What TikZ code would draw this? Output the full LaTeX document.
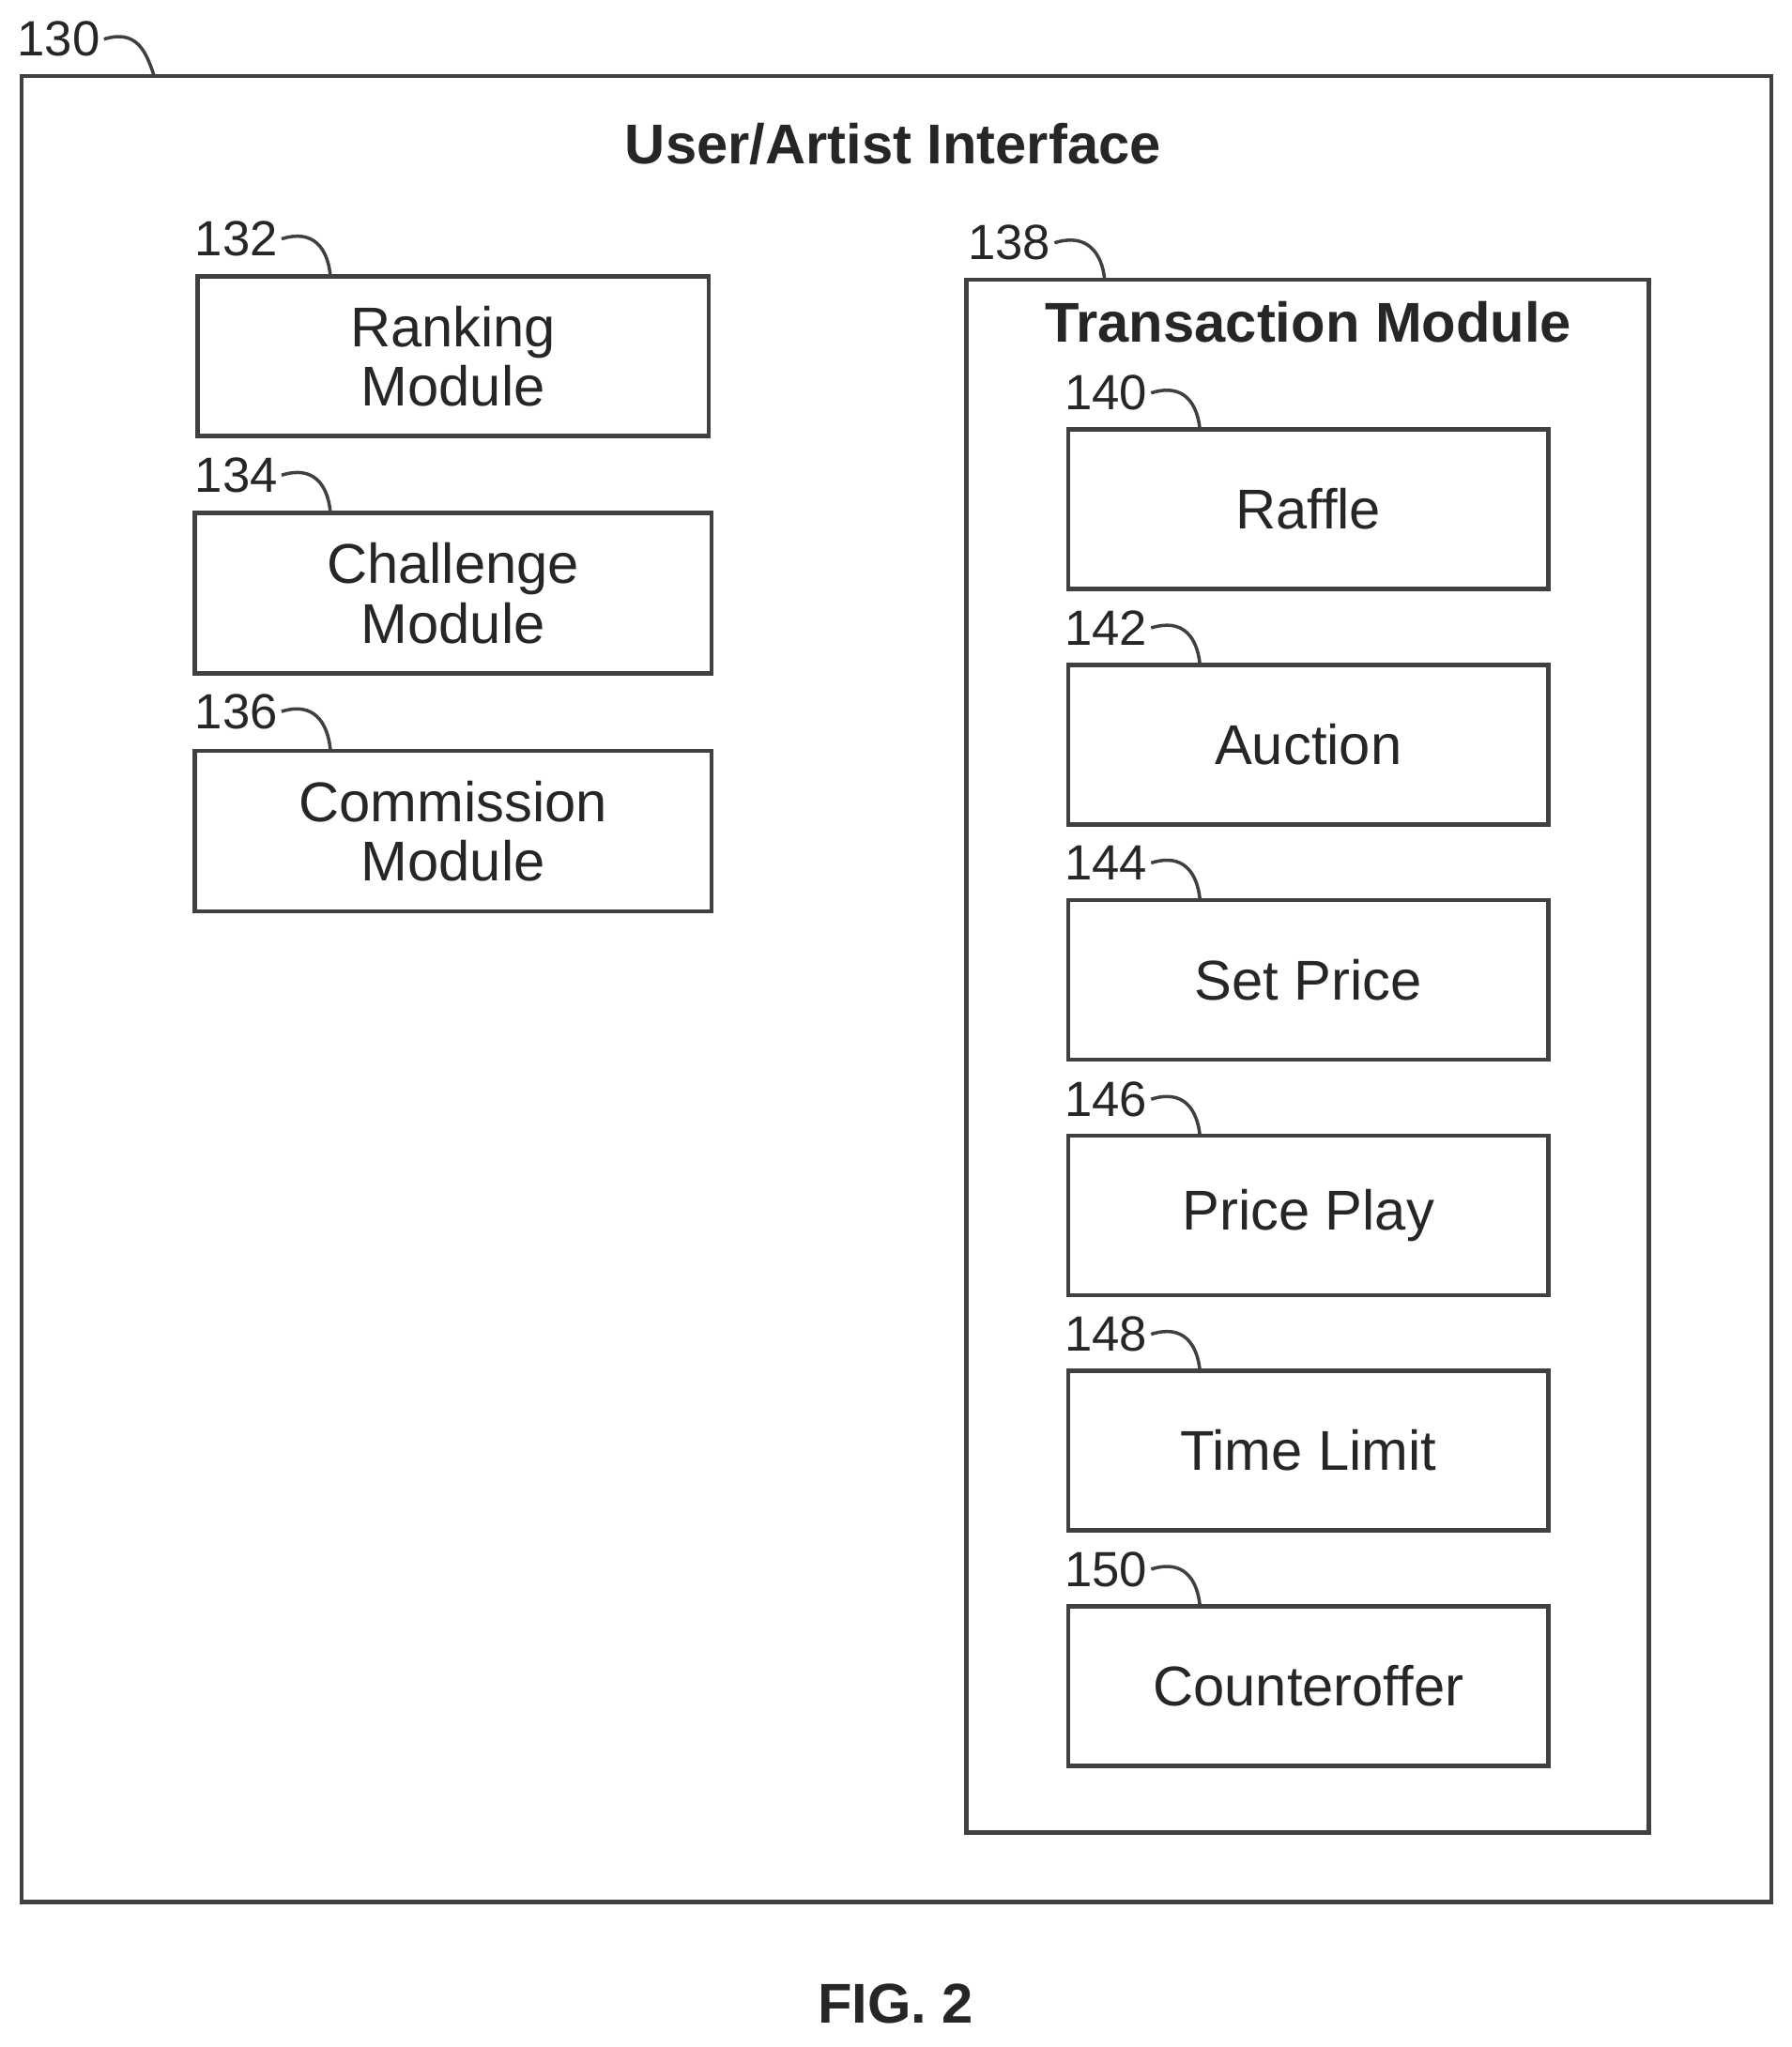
\documentclass[tikz,border=0pt]{standalone}
\usepackage{fontspec}
\setmainfont{Liberation Sans}
\begin{document}
\tikzset{
  box/.style={draw=black!75, line width=1.3pt, shape=rectangle, inner sep=0pt, align=center, font={\fontsize{17}{18}\selectfont}, text=black!85},
  ref/.style={font={\fontsize{15}{18}\selectfont}, text=black!85, inner sep=1pt},
  lead/.style={draw=black!75, line width=1pt},
  head/.style={font={\fontsize{17}{20}\selectfont\bfseries}, text=black!85}
}
\begin{tikzpicture}[x=0.01391cm,y=-0.01391cm]
\useasboundingbox (0,0) rectangle (1372,1568);

% outer interface
\node [box, minimum width=18.65cm, minimum height=19.46cm] (ui) at (686.5,757.5) {};
\node [ref] (r130) at (45,30) {130};
\coordinate (c130) at (118,58);
\draw [lead] (r130.east) .. controls (105,22) and (112,40) .. (c130);
\node [head] (title) at (684,110) {User/Artist Interface};

% left column
\node [box, minimum width=5.45cm, minimum height=1.70cm] (rank) at (347,273) {Ranking\\Module};
\node [box, minimum width=5.51cm, minimum height=1.71cm] (chal) at (347,454.5) {Challenge\\Module};
\node [box, minimum width=5.51cm, minimum height=1.71cm] (comm) at (347,636.5) {Commission\\Module};
\node [ref] (r132) at (181,183) {132};
\node [ref] (r134) at (181,364) {134};
\node [ref] (r136) at (181,545) {136};
\coordinate (c132) at (253,211);
\coordinate (c134) at (253,392);
\coordinate (c136) at (253,574);
\foreach \n in {132,134,136}
  \draw [lead] (r\n.east) .. controls +(25,-8) and +(-2,-20) .. (c\n);

% transaction module
\node [box, minimum width=7.27cm, minimum height=16.55cm] (trans) at (1001.5,809) {};
\node [ref] (r138) at (773,186) {138};
\coordinate (c138) at (846,214);
\draw [lead] (r138.east) .. controls +(25,-8) and +(-2,-20) .. (c138);
\node [head] (ttitle) at (1002,247) {Transaction Module};

\node [box, minimum width=5.12cm, minimum height=1.70cm] (raffle) at (1002,390) {Raffle};
\node [box, minimum width=5.12cm, minimum height=1.70cm] (auction) at (1002,570.5) {Auction};
\node [box, minimum width=5.12cm, minimum height=1.70cm] (setp) at (1002,750.5) {Set Price};
\node [box, minimum width=5.12cm, minimum height=1.70cm] (pplay) at (1002,931) {Price Play};
\node [box, minimum width=5.12cm, minimum height=1.70cm] (tlimit) at (1002,1111) {Time Limit};
\node [box, minimum width=5.12cm, minimum height=1.70cm] (counter) at (1002,1291.5) {Counteroffer};
\foreach \n/\y in {140/329,142/509,144/689,146/870,148/1050,150/1230} {
  \node [ref] (r\n) at (847,\y-28) {\n};
  \coordinate (c\n) at (919,\y);
  \draw [lead] (r\n.east) .. controls +(25,-8) and +(-2,-20) .. (c\n);
}

\node [head] (fig) at (686,1535) {FIG. 2};
\end{tikzpicture}
\end{document}
